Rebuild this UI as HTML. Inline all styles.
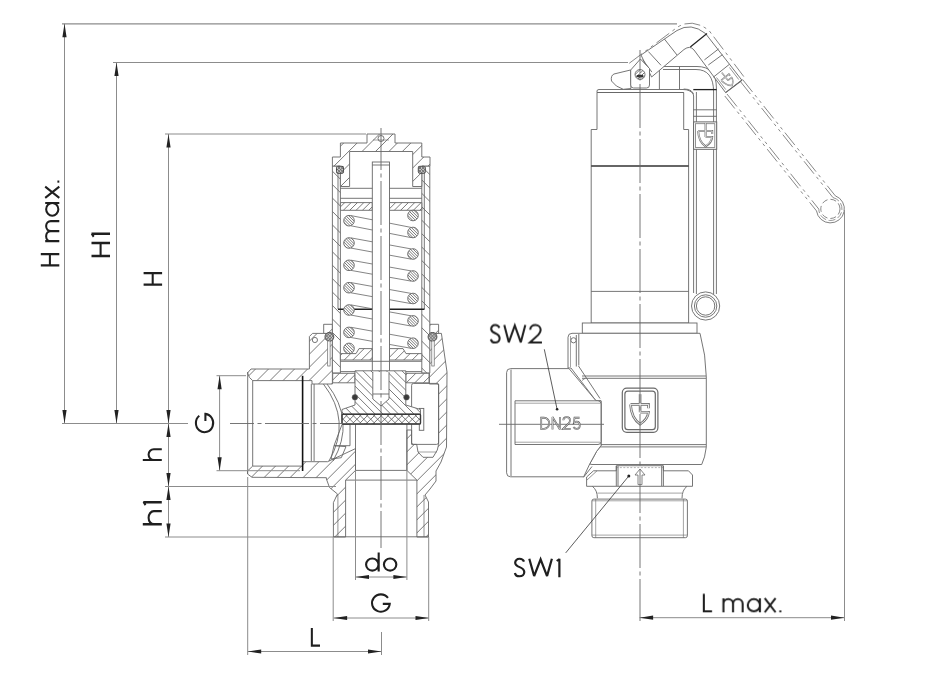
<!DOCTYPE html>
<html><head><meta charset="utf-8"><style>
html,body{margin:0;padding:0;background:#fff;}
svg{display:block;font-family:"Liberation Sans",sans-serif;}
</style></head><body>
<svg width="930" height="700" viewBox="0 0 930 700">

<polygon points="247.5,373 251,369 309.4,369 309.4,336.5 312.5,333.4 332.4,333.4 332.4,384 312,384 312,380.6 252.7,380.6 249.5,377.5" fill="#fff" stroke="none" stroke-width="0" stroke-linejoin="round" />
<clipPath id="c1"><polygon points="247.5,373 251,369 309.4,369 309.4,336.5 312.5,333.4 332.4,333.4 332.4,384 312,384 312,380.6 252.7,380.6 249.5,377.5"/></clipPath><path clip-path="url(#c1)" d="M186.47,386.00L241.07,331.40M199.48,386.00L254.08,331.40M212.50,386.00L267.10,331.40M225.51,386.00L280.11,331.40M238.52,386.00L293.12,331.40M251.53,386.00L306.13,331.40M264.54,386.00L319.14,331.40M277.55,386.00L332.15,331.40M290.56,386.00L345.16,331.40M303.57,386.00L358.17,331.40M316.58,386.00L371.18,331.40M329.59,386.00L384.19,331.40" stroke="#6a6a6a" stroke-width="0.9" fill="none"/>
<polygon points="247.5,373 251,369 309.4,369 309.4,336.5 312.5,333.4 332.4,333.4 332.4,384 312,384 312,380.6 252.7,380.6 249.5,377.5" fill="none" stroke="#666" stroke-width="0.9" stroke-linejoin="round" />
<polygon points="247.5,471 252.7,466.1 302.6,466.1 302.6,461.7 327.6,461.7 355.5,448.6 355.5,470.4 345.6,480.1 345.6,537 333.4,537 333.4,502.6 337.5,494 329.5,487.5 326.4,479 326.4,477.7 252,477.3 247.5,474" fill="#fff" stroke="none" stroke-width="0" stroke-linejoin="round" />
<clipPath id="c2"><polygon points="247.5,471 252.7,466.1 302.6,466.1 302.6,461.7 327.6,461.7 355.5,448.6 355.5,470.4 345.6,480.1 345.6,537 333.4,537 333.4,502.6 337.5,494 329.5,487.5 326.4,479 326.4,477.7 252,477.3 247.5,474"/></clipPath><path clip-path="url(#c2)" d="M150.57,539.00L242.97,446.60M163.58,539.00L255.98,446.60M176.59,539.00L268.99,446.60M189.60,539.00L282.00,446.60M202.61,539.00L295.01,446.60M215.62,539.00L308.02,446.60M228.64,539.00L321.04,446.60M241.65,539.00L334.05,446.60M254.66,539.00L347.06,446.60M267.67,539.00L360.07,446.60M280.68,539.00L373.08,446.60M293.69,539.00L386.09,446.60M306.70,539.00L399.10,446.60M319.71,539.00L412.11,446.60M332.72,539.00L425.12,446.60M345.73,539.00L438.13,446.60" stroke="#6a6a6a" stroke-width="0.9" fill="none"/>
<polygon points="247.5,471 252.7,466.1 302.6,466.1 302.6,461.7 327.6,461.7 355.5,448.6 355.5,470.4 345.6,480.1 345.6,537 333.4,537 333.4,502.6 337.5,494 329.5,487.5 326.4,479 326.4,477.7 252,477.3 247.5,474" fill="none" stroke="#666" stroke-width="0.9" stroke-linejoin="round" />
<polygon points="429.4,333.4 441.4,333.4 447,372 446.5,447 441,462 436,471 436,481 430,489 425,495 428.5,502 428.5,537 416.9,537 416.9,480.1 406.9,470.4 406.9,430 411.6,430 411.6,444.4 416.7,444.4 418,452 423,457.3 433,457.3 437.3,450 438.6,444.4 438.6,384 429.4,384" fill="#fff" stroke="none" stroke-width="0" stroke-linejoin="round" />
<clipPath id="c3"><polygon points="429.4,333.4 441.4,333.4 447,372 446.5,447 441,462 436,471 436,481 430,489 425,495 428.5,502 428.5,537 416.9,537 416.9,480.1 406.9,470.4 406.9,430 411.6,430 411.6,444.4 416.7,444.4 418,452 423,457.3 433,457.3 437.3,450 438.6,444.4 438.6,384 429.4,384"/></clipPath><path clip-path="url(#c3)" d="M189.60,539.00L397.20,331.40M202.61,539.00L410.21,331.40M215.62,539.00L423.22,331.40M228.64,539.00L436.24,331.40M241.65,539.00L449.25,331.40M254.66,539.00L462.26,331.40M267.67,539.00L475.27,331.40M280.68,539.00L488.28,331.40M293.69,539.00L501.29,331.40M306.70,539.00L514.30,331.40M319.71,539.00L527.31,331.40M332.72,539.00L540.32,331.40M345.73,539.00L553.33,331.40M358.74,539.00L566.34,331.40M371.75,539.00L579.35,331.40M384.76,539.00L592.36,331.40M397.78,539.00L605.38,331.40M410.79,539.00L618.39,331.40M423.80,539.00L631.40,331.40M436.81,539.00L644.41,331.40" stroke="#6a6a6a" stroke-width="0.9" fill="none"/>
<polygon points="429.4,333.4 441.4,333.4 447,372 446.5,447 441,462 436,471 436,481 430,489 425,495 428.5,502 428.5,537 416.9,537 416.9,480.1 406.9,470.4 406.9,430 411.6,430 411.6,444.4 416.7,444.4 418,452 423,457.3 433,457.3 437.3,450 438.6,444.4 438.6,384 429.4,384" fill="none" stroke="#666" stroke-width="0.9" stroke-linejoin="round" />
<circle cx="314.9" cy="340" r="2.6" fill="#fff" stroke="#666" stroke-width="0.9" />
<line x1="302.6" y1="375.8" x2="302.6" y2="471" stroke="#111" stroke-width="1.6" />
<line x1="311.3" y1="384" x2="311.3" y2="461" stroke="#666" stroke-width="0.9" />
<line x1="314.1" y1="384" x2="314.1" y2="461" stroke="#666" stroke-width="0.9" />
<line x1="252.7" y1="380.6" x2="252.7" y2="466.1" stroke="#666" stroke-width="0.9" />
<line x1="247.7" y1="372" x2="247.7" y2="474" stroke="#666" stroke-width="0.9" />
<path d="M323.4,384 Q352,421 329,461" fill="none" stroke="#666" stroke-width="0.9" stroke-linejoin="round" />
<path d="M327,384 Q356,421 333,461" fill="none" stroke="#666" stroke-width="0.9" stroke-linejoin="round" />
<polygon points="342,424.5 350,424.5 350,445.7 334,445.7" fill="none" stroke="#666" stroke-width="0.9" stroke-linejoin="round" />
<polygon points="334,445.7 346,446.6 341.3,457.7 331,459" fill="none" stroke="#666" stroke-width="0.9" stroke-linejoin="round" />
<rect x="411.6" y="383.4" width="27" height="61" rx="2" fill="none" stroke="#666" stroke-width="0.9" />
<rect x="419.3" y="408.4" width="4.5" height="21.9" rx="0" fill="#fff" stroke="#666" stroke-width="0.9" />
<line x1="418" y1="452" x2="437" y2="452" stroke="#666" stroke-width="0.6" />
<line x1="345.6" y1="480.1" x2="416.9" y2="480.1" stroke="#666" stroke-width="0.9" />
<line x1="333.4" y1="536.8" x2="428.5" y2="536.8" stroke="#666" stroke-width="0.9" />
<line x1="355.5" y1="470.4" x2="406.9" y2="470.4" stroke="#666" stroke-width="0.9" />
<line x1="355.5" y1="424" x2="355.5" y2="470.4" stroke="#666" stroke-width="0.9" />
<line x1="406.9" y1="424" x2="406.9" y2="470.4" stroke="#666" stroke-width="0.9" />
<line x1="337.9" y1="495" x2="337.9" y2="537" stroke="#666" stroke-width="0.7" />
<line x1="424" y1="495" x2="424" y2="537" stroke="#666" stroke-width="0.7" />
<polygon points="323.7,324.3 332.4,324.3 332.4,333.4 323.7,333.4" fill="#fff" stroke="none" stroke-width="0" stroke-linejoin="round" />
<clipPath id="c4"><polygon points="323.7,324.3 332.4,324.3 332.4,333.4 323.7,333.4"/></clipPath><path clip-path="url(#c4)" d="M299.05,335.40L312.15,322.30M312.48,335.40L325.58,322.30M325.92,335.40L339.02,322.30" stroke="#6a6a6a" stroke-width="0.9" fill="none"/>
<polygon points="323.7,324.3 332.4,324.3 332.4,333.4 323.7,333.4" fill="none" stroke="#666" stroke-width="0.9" stroke-linejoin="round" />
<polygon points="429.4,324.3 438.6,324.3 438.6,333.4 429.4,333.4" fill="#fff" stroke="none" stroke-width="0" stroke-linejoin="round" />
<clipPath id="c5"><polygon points="429.4,324.3 438.6,324.3 438.6,333.4 429.4,333.4"/></clipPath><path clip-path="url(#c5)" d="M406.53,335.40L419.63,322.30M419.96,335.40L433.06,322.30M433.40,335.40L446.50,322.30" stroke="#6a6a6a" stroke-width="0.9" fill="none"/>
<polygon points="429.4,324.3 438.6,324.3 438.6,333.4 429.4,333.4" fill="none" stroke="#666" stroke-width="0.9" stroke-linejoin="round" />
<polygon points="332.4,166 340.4,166 340.4,373 332.4,373" fill="#fff" stroke="none" stroke-width="0" stroke-linejoin="round" />
<clipPath id="c6"><polygon points="332.4,166 340.4,166 340.4,373 332.4,373"/></clipPath><path clip-path="url(#c6)" d="M110.26,164.00L321.26,375.00M123.69,164.00L334.69,375.00M137.13,164.00L348.13,375.00M150.56,164.00L361.56,375.00M164.00,164.00L375.00,375.00M177.44,164.00L388.44,375.00M190.87,164.00L401.87,375.00M204.31,164.00L415.31,375.00M217.74,164.00L428.74,375.00M231.18,164.00L442.18,375.00M244.61,164.00L455.61,375.00M258.05,164.00L469.05,375.00M271.48,164.00L482.48,375.00M284.92,164.00L495.92,375.00M298.35,164.00L509.35,375.00M311.79,164.00L522.79,375.00M325.22,164.00L536.22,375.00M338.66,164.00L549.66,375.00" stroke="#6a6a6a" stroke-width="0.9" fill="none"/>
<polygon points="332.4,166 340.4,166 340.4,373 332.4,373" fill="none" stroke="#666" stroke-width="0.9" stroke-linejoin="round" />
<polygon points="421.8,166 429.8,166 429.8,373 421.8,373" fill="#fff" stroke="none" stroke-width="0" stroke-linejoin="round" />
<clipPath id="c7"><polygon points="421.8,166 429.8,166 429.8,373 421.8,373"/></clipPath><path clip-path="url(#c7)" d="M204.31,164.00L415.31,375.00M217.74,164.00L428.74,375.00M231.18,164.00L442.18,375.00M244.61,164.00L455.61,375.00M258.05,164.00L469.05,375.00M271.48,164.00L482.48,375.00M284.92,164.00L495.92,375.00M298.35,164.00L509.35,375.00M311.79,164.00L522.79,375.00M325.22,164.00L536.22,375.00M338.66,164.00L549.66,375.00M352.09,164.00L563.09,375.00M365.53,164.00L576.53,375.00M378.96,164.00L589.96,375.00M392.40,164.00L603.40,375.00M405.83,164.00L616.83,375.00M419.27,164.00L630.27,375.00" stroke="#6a6a6a" stroke-width="0.9" fill="none"/>
<polygon points="421.8,166 429.8,166 429.8,373 421.8,373" fill="none" stroke="#666" stroke-width="0.9" stroke-linejoin="round" />
<line x1="338" y1="172" x2="338" y2="309" stroke="#666" stroke-width="0.9" />
<line x1="424.3" y1="172" x2="424.3" y2="309" stroke="#666" stroke-width="0.9" />
<polygon points="332.7,373.3 355.0,373.3 355.0,382.8 332.7,382.8" fill="#fff" stroke="none" stroke-width="0" stroke-linejoin="round" />
<clipPath id="c8"><polygon points="332.7,373.3 355.0,373.3 355.0,382.8 332.7,382.8"/></clipPath><path clip-path="url(#c8)" d="M310.99,384.80L324.49,371.30M319.48,384.80L332.98,371.30M327.96,384.80L341.46,371.30M336.45,384.80L349.95,371.30M344.93,384.80L358.43,371.30M353.42,384.80L366.92,371.30" stroke="#6a6a6a" stroke-width="0.9" fill="none"/>
<polygon points="332.7,373.3 355.0,373.3 355.0,382.8 332.7,382.8" fill="none" stroke="#666" stroke-width="0.9" stroke-linejoin="round" />
<polygon points="405.8,373.3 429.0,373.3 429.0,382.8 405.8,382.8" fill="#fff" stroke="none" stroke-width="0" stroke-linejoin="round" />
<clipPath id="c9"><polygon points="405.8,373.3 429.0,373.3 429.0,382.8 405.8,382.8"/></clipPath><path clip-path="url(#c9)" d="M387.36,384.80L400.86,371.30M395.85,384.80L409.35,371.30M404.33,384.80L417.83,371.30M412.82,384.80L426.32,371.30M421.30,384.80L434.80,371.30M429.79,384.80L443.29,371.30" stroke="#6a6a6a" stroke-width="0.9" fill="none"/>
<polygon points="405.8,373.3 429.0,373.3 429.0,382.8 405.8,382.8" fill="none" stroke="#666" stroke-width="0.9" stroke-linejoin="round" />
<polygon points="367,143 367,134 395,134 395,143 421.8,143 421.8,157 430,157 430,166 421.8,166 421.8,186.5 412.7,186.5 412.7,151.5 349.6,151.5 349.6,186.5 340.4,186.5 340.4,166 332.4,166 332.4,157 340.4,157 340.4,143" fill="#fff" stroke="none" stroke-width="0" stroke-linejoin="round" />
<clipPath id="c10"><polygon points="367,143 367,134 395,134 395,143 421.8,143 421.8,157 430,157 430,166 421.8,166 421.8,186.5 412.7,186.5 412.7,151.5 349.6,151.5 349.6,186.5 340.4,186.5 340.4,166 332.4,166 332.4,157 340.4,157 340.4,143"/></clipPath><path clip-path="url(#c10)" d="M271.29,188.50L327.79,132.00M284.73,188.50L341.23,132.00M298.16,188.50L354.66,132.00M311.60,188.50L368.10,132.00M325.03,188.50L381.53,132.00M338.47,188.50L394.97,132.00M351.90,188.50L408.40,132.00M365.34,188.50L421.84,132.00M378.77,188.50L435.27,132.00M392.21,188.50L448.71,132.00M405.64,188.50L462.14,132.00M419.08,188.50L475.58,132.00" stroke="#6a6a6a" stroke-width="0.9" fill="none"/>
<polygon points="367,143 367,134 395,134 395,143 421.8,143 421.8,157 430,157 430,166 421.8,166 421.8,186.5 412.7,186.5 412.7,151.5 349.6,151.5 349.6,186.5 340.4,186.5 340.4,166 332.4,166 332.4,157 340.4,157 340.4,143" fill="none" stroke="#666" stroke-width="0.9" stroke-linejoin="round" />
<circle cx="381" cy="138.5" r="3" fill="#fff" stroke="#666" stroke-width="0.9" />
<line x1="373" y1="140" x2="389" y2="140" stroke="#666" stroke-width="0.6" />
<rect x="336.5" y="166.3" width="7" height="7" rx="1.5" fill="#c8c8c8" stroke="#444" stroke-width="1.0" />
<clipPath id="c11"><rect x="336.5" y="166.3" width="7" height="7"/></clipPath><path clip-path="url(#c11)" d="M322.50,175.30L333.50,164.30M325.61,175.30L336.61,164.30M328.73,175.30L339.73,164.30M331.84,175.30L342.84,164.30M334.95,175.30L345.95,164.30M338.06,175.30L349.06,164.30M341.17,175.30L352.17,164.30M344.28,175.30L355.28,164.30" stroke="#6a6a6a" stroke-width="0.9" fill="none"/>
<clipPath id="c12"><rect x="336.5" y="166.3" width="7" height="7"/></clipPath><path clip-path="url(#c12)" d="M322.97,164.30L333.97,175.30M326.09,164.30L337.09,175.30M329.20,164.30L340.20,175.30M332.31,164.30L343.31,175.30M335.42,164.30L346.42,175.30M338.53,164.30L349.53,175.30M341.64,164.30L352.64,175.30M344.75,164.30L355.75,175.30" stroke="#6a6a6a" stroke-width="0.9" fill="none"/>
<rect x="418.3" y="166.3" width="7" height="7" rx="1.5" fill="#c8c8c8" stroke="#444" stroke-width="1.0" />
<clipPath id="c13"><rect x="418.3" y="166.3" width="7" height="7"/></clipPath><path clip-path="url(#c13)" d="M403.40,175.30L414.40,164.30M406.51,175.30L417.51,164.30M409.62,175.30L420.62,164.30M412.73,175.30L423.73,164.30M415.84,175.30L426.84,164.30M418.95,175.30L429.95,164.30M422.06,175.30L433.06,164.30M425.18,175.30L436.18,164.30" stroke="#6a6a6a" stroke-width="0.9" fill="none"/>
<clipPath id="c14"><rect x="418.3" y="166.3" width="7" height="7"/></clipPath><path clip-path="url(#c14)" d="M403.87,164.30L414.87,175.30M406.98,164.30L417.98,175.30M410.09,164.30L421.09,175.30M413.20,164.30L424.20,175.30M416.31,164.30L427.31,175.30M419.42,164.30L430.42,175.30M422.54,164.30L433.54,175.30M425.65,164.30L436.65,175.30" stroke="#6a6a6a" stroke-width="0.9" fill="none"/>
<circle cx="329.4" cy="336.9" r="4.4" fill="#c8c8c8" stroke="#444" stroke-width="1.0" />
<clipPath id="c15"><circle cx="329.4" cy="336.9" r="4.4"/></clipPath><path clip-path="url(#c15)" d="M310.07,343.30L322.87,330.50M313.18,343.30L325.98,330.50M316.29,343.30L329.09,330.50M319.40,343.30L332.20,330.50M322.51,343.30L335.31,330.50M325.62,343.30L338.42,330.50M328.73,343.30L341.53,330.50M331.85,343.30L344.65,330.50M334.96,343.30L347.76,330.50" stroke="#6a6a6a" stroke-width="0.9" fill="none"/>
<clipPath id="c16"><circle cx="329.4" cy="336.9" r="4.4"/></clipPath><path clip-path="url(#c16)" d="M308.72,330.50L321.52,343.30M311.83,330.50L324.63,343.30M314.94,330.50L327.74,343.30M318.05,330.50L330.85,343.30M321.17,330.50L333.97,343.30M324.28,330.50L337.08,343.30M327.39,330.50L340.19,343.30M330.50,330.50L343.30,343.30M333.61,330.50L346.41,343.30" stroke="#6a6a6a" stroke-width="0.9" fill="none"/>
<rect x="327.7" y="341" width="2.4" height="25" rx="0" fill="#fff" stroke="#666" stroke-width="0.7" />
<circle cx="432.5" cy="336.9" r="4.4" fill="#c8c8c8" stroke="#444" stroke-width="1.0" />
<clipPath id="c17"><circle cx="432.5" cy="336.9" r="4.4"/></clipPath><path clip-path="url(#c17)" d="M412.74,343.30L425.54,330.50M415.85,343.30L428.65,330.50M418.96,343.30L431.76,330.50M422.07,343.30L434.87,330.50M425.18,343.30L437.98,330.50M428.29,343.30L441.09,330.50M431.41,343.30L444.21,330.50M434.52,343.30L447.32,330.50M437.63,343.30L450.43,330.50" stroke="#6a6a6a" stroke-width="0.9" fill="none"/>
<clipPath id="c18"><circle cx="432.5" cy="336.9" r="4.4"/></clipPath><path clip-path="url(#c18)" d="M411.39,330.50L424.19,343.30M414.50,330.50L427.30,343.30M417.62,330.50L430.42,343.30M420.73,330.50L433.53,343.30M423.84,330.50L436.64,343.30M426.95,330.50L439.75,343.30M430.06,330.50L442.86,343.30M433.17,330.50L445.97,343.30M436.28,330.50L449.08,343.30" stroke="#6a6a6a" stroke-width="0.9" fill="none"/>
<rect x="431.8" y="341" width="2.4" height="25" rx="0" fill="#fff" stroke="#666" stroke-width="0.7" />
<line x1="340.4" y1="188.3" x2="421.8" y2="188.3" stroke="#666" stroke-width="0.9" />
<line x1="340.4" y1="198.3" x2="421.8" y2="198.3" stroke="#666" stroke-width="0.9" />
<polygon points="340.4,202.6 372.29999999999995,202.6 372.29999999999995,210.29999999999998 340.4,210.29999999999998" fill="#fff" stroke="none" stroke-width="0" stroke-linejoin="round" />
<clipPath id="c19"><polygon points="340.4,202.6 372.29999999999995,202.6 372.29999999999995,210.29999999999998 340.4,210.29999999999998"/></clipPath><path clip-path="url(#c19)" d="M322.27,212.30L333.97,200.60M328.64,212.30L340.34,200.60M335.00,212.30L346.70,200.60M341.36,212.30L353.06,200.60M347.73,212.30L359.43,200.60M354.09,212.30L365.79,200.60M360.46,212.30L372.16,200.60M366.82,212.30L378.52,200.60M373.18,212.30L384.88,200.60" stroke="#6a6a6a" stroke-width="0.9" fill="none"/>
<polygon points="340.4,202.6 372.29999999999995,202.6 372.29999999999995,210.29999999999998 340.4,210.29999999999998" fill="none" stroke="#666" stroke-width="0.9" stroke-linejoin="round" />
<polygon points="389.5,202.6 421.8,202.6 421.8,210.29999999999998 389.5,210.29999999999998" fill="#fff" stroke="none" stroke-width="0" stroke-linejoin="round" />
<clipPath id="c20"><polygon points="389.5,202.6 421.8,202.6 421.8,210.29999999999998 389.5,210.29999999999998"/></clipPath><path clip-path="url(#c20)" d="M373.18,212.30L384.88,200.60M379.55,212.30L391.25,200.60M385.91,212.30L397.61,200.60M392.28,212.30L403.98,200.60M398.64,212.30L410.34,200.60M405.00,212.30L416.70,200.60M411.37,212.30L423.07,200.60M417.73,212.30L429.43,200.60" stroke="#6a6a6a" stroke-width="0.9" fill="none"/>
<polygon points="389.5,202.6 421.8,202.6 421.8,210.29999999999998 389.5,210.29999999999998" fill="none" stroke="#666" stroke-width="0.9" stroke-linejoin="round" />
<line x1="338" y1="309.2" x2="424.5" y2="309.2" stroke="#222" stroke-width="1.4" />
<line x1="351" y1="215.6" x2="411" y2="227.4" stroke="#666" stroke-width="0.8" />
<line x1="351" y1="225.79999999999998" x2="411" y2="237.6" stroke="#666" stroke-width="0.8" />
<line x1="351" y1="237.9" x2="411" y2="248.9" stroke="#666" stroke-width="0.8" />
<line x1="351" y1="248.1" x2="411" y2="259.1" stroke="#666" stroke-width="0.8" />
<line x1="351" y1="260.2" x2="411" y2="270.9" stroke="#666" stroke-width="0.8" />
<line x1="351" y1="270.40000000000003" x2="411" y2="281.1" stroke="#666" stroke-width="0.8" />
<line x1="351" y1="282.59999999999997" x2="411" y2="293.4" stroke="#666" stroke-width="0.8" />
<line x1="351" y1="292.8" x2="411" y2="303.6" stroke="#666" stroke-width="0.8" />
<line x1="351" y1="304.9" x2="411" y2="315.79999999999995" stroke="#666" stroke-width="0.8" />
<line x1="351" y1="315.1" x2="411" y2="326.0" stroke="#666" stroke-width="0.8" />
<line x1="351" y1="327.29999999999995" x2="411" y2="338.09999999999997" stroke="#666" stroke-width="0.8" />
<line x1="351" y1="337.5" x2="411" y2="348.3" stroke="#666" stroke-width="0.8" />
<rect x="372.3" y="162" width="17.2" height="240" rx="0" fill="#fff" stroke="#666" stroke-width="0.9" />
<line x1="372.3" y1="165" x2="389.5" y2="165" stroke="#666" stroke-width="0.9" />
<circle cx="349" cy="220.7" r="5.3" fill="#fff" stroke="none" stroke-width="0" />
<clipPath id="c21"><circle cx="349" cy="220.7" r="5.3"/></clipPath><path clip-path="url(#c21)" d="M326.54,213.40L341.14,228.00M329.37,213.40L343.97,228.00M332.19,213.40L346.79,228.00M335.02,213.40L349.62,228.00M337.85,213.40L352.45,228.00M340.68,213.40L355.28,228.00M343.51,213.40L358.11,228.00M346.34,213.40L360.94,228.00M349.16,213.40L363.76,228.00M351.99,213.40L366.59,228.00M354.82,213.40L369.42,228.00" stroke="#6a6a6a" stroke-width="0.9" fill="none"/>
<circle cx="349" cy="220.7" r="5.3" fill="none" stroke="#666" stroke-width="0.9" />
<circle cx="349" cy="243" r="5.3" fill="#fff" stroke="none" stroke-width="0" />
<clipPath id="c22"><circle cx="349" cy="243" r="5.3"/></clipPath><path clip-path="url(#c22)" d="M326.21,235.70L340.81,250.30M329.04,235.70L343.64,250.30M331.87,235.70L346.47,250.30M334.69,235.70L349.29,250.30M337.52,235.70L352.12,250.30M340.35,235.70L354.95,250.30M343.18,235.70L357.78,250.30M346.01,235.70L360.61,250.30M348.84,235.70L363.44,250.30M351.67,235.70L366.27,250.30M354.49,235.70L369.09,250.30" stroke="#6a6a6a" stroke-width="0.9" fill="none"/>
<circle cx="349" cy="243" r="5.3" fill="none" stroke="#666" stroke-width="0.9" />
<circle cx="349" cy="265.3" r="5.3" fill="#fff" stroke="none" stroke-width="0" />
<clipPath id="c23"><circle cx="349" cy="265.3" r="5.3"/></clipPath><path clip-path="url(#c23)" d="M325.88,258.00L340.48,272.60M328.71,258.00L343.31,272.60M331.54,258.00L346.14,272.60M334.37,258.00L348.97,272.60M337.20,258.00L351.80,272.60M340.02,258.00L354.62,272.60M342.85,258.00L357.45,272.60M345.68,258.00L360.28,272.60M348.51,258.00L363.11,272.60M351.34,258.00L365.94,272.60M354.17,258.00L368.77,272.60" stroke="#6a6a6a" stroke-width="0.9" fill="none"/>
<circle cx="349" cy="265.3" r="5.3" fill="none" stroke="#666" stroke-width="0.9" />
<circle cx="349" cy="287.7" r="5.3" fill="#fff" stroke="none" stroke-width="0" />
<clipPath id="c24"><circle cx="349" cy="287.7" r="5.3"/></clipPath><path clip-path="url(#c24)" d="M325.65,280.40L340.25,295.00M328.48,280.40L343.08,295.00M331.31,280.40L345.91,295.00M334.14,280.40L348.74,295.00M336.97,280.40L351.57,295.00M339.80,280.40L354.40,295.00M342.63,280.40L357.23,295.00M345.45,280.40L360.05,295.00M348.28,280.40L362.88,295.00M351.11,280.40L365.71,295.00M353.94,280.40L368.54,295.00" stroke="#6a6a6a" stroke-width="0.9" fill="none"/>
<circle cx="349" cy="287.7" r="5.3" fill="none" stroke="#666" stroke-width="0.9" />
<circle cx="349" cy="310" r="5.3" fill="#fff" stroke="none" stroke-width="0" />
<clipPath id="c25"><circle cx="349" cy="310" r="5.3"/></clipPath><path clip-path="url(#c25)" d="M325.33,302.70L339.93,317.30M328.16,302.70L342.76,317.30M330.98,302.70L345.58,317.30M333.81,302.70L348.41,317.30M336.64,302.70L351.24,317.30M339.47,302.70L354.07,317.30M342.30,302.70L356.90,317.30M345.13,302.70L359.73,317.30M347.95,302.70L362.55,317.30M350.78,302.70L365.38,317.30M353.61,302.70L368.21,317.30" stroke="#6a6a6a" stroke-width="0.9" fill="none"/>
<circle cx="349" cy="310" r="5.3" fill="none" stroke="#666" stroke-width="0.9" />
<circle cx="349" cy="332.4" r="5.3" fill="#fff" stroke="none" stroke-width="0" />
<clipPath id="c26"><circle cx="349" cy="332.4" r="5.3"/></clipPath><path clip-path="url(#c26)" d="M325.10,325.10L339.70,339.70M327.93,325.10L342.53,339.70M330.76,325.10L345.36,339.70M333.59,325.10L348.19,339.70M336.41,325.10L351.01,339.70M339.24,325.10L353.84,339.70M342.07,325.10L356.67,339.70M344.90,325.10L359.50,339.70M347.73,325.10L362.33,339.70M350.56,325.10L365.16,339.70M353.38,325.10L367.98,339.70M356.21,325.10L370.81,339.70" stroke="#6a6a6a" stroke-width="0.9" fill="none"/>
<circle cx="349" cy="332.4" r="5.3" fill="none" stroke="#666" stroke-width="0.9" />
<circle cx="349" cy="348.4" r="5.3" fill="#fff" stroke="none" stroke-width="0" />
<clipPath id="c27"><circle cx="349" cy="348.4" r="5.3"/></clipPath><path clip-path="url(#c27)" d="M326.96,341.10L341.56,355.70M329.79,341.10L344.39,355.70M332.61,341.10L347.21,355.70M335.44,341.10L350.04,355.70M338.27,341.10L352.87,355.70M341.10,341.10L355.70,355.70M343.93,341.10L358.53,355.70M346.76,341.10L361.36,355.70M349.59,341.10L364.19,355.70M352.41,341.10L367.01,355.70M355.24,341.10L369.84,355.70" stroke="#6a6a6a" stroke-width="0.9" fill="none"/>
<circle cx="349" cy="348.4" r="5.3" fill="none" stroke="#666" stroke-width="0.9" />
<circle cx="413" cy="215.5" r="5.3" fill="#fff" stroke="none" stroke-width="0" />
<clipPath id="c28"><circle cx="413" cy="215.5" r="5.3"/></clipPath><path clip-path="url(#c28)" d="M389.22,208.20L403.82,222.80M392.05,208.20L406.65,222.80M394.88,208.20L409.48,222.80M397.70,208.20L412.30,222.80M400.53,208.20L415.13,222.80M403.36,208.20L417.96,222.80M406.19,208.20L420.79,222.80M409.02,208.20L423.62,222.80M411.85,208.20L426.45,222.80M414.68,208.20L429.28,222.80M417.50,208.20L432.10,222.80" stroke="#6a6a6a" stroke-width="0.9" fill="none"/>
<circle cx="413" cy="215.5" r="5.3" fill="none" stroke="#666" stroke-width="0.9" />
<circle cx="413" cy="232.5" r="5.3" fill="#fff" stroke="none" stroke-width="0" />
<clipPath id="c29"><circle cx="413" cy="232.5" r="5.3"/></clipPath><path clip-path="url(#c29)" d="M389.25,225.20L403.85,239.80M392.08,225.20L406.68,239.80M394.91,225.20L409.51,239.80M397.73,225.20L412.33,239.80M400.56,225.20L415.16,239.80M403.39,225.20L417.99,239.80M406.22,225.20L420.82,239.80M409.05,225.20L423.65,239.80M411.88,225.20L426.48,239.80M414.70,225.20L429.30,239.80M417.53,225.20L432.13,239.80" stroke="#6a6a6a" stroke-width="0.9" fill="none"/>
<circle cx="413" cy="232.5" r="5.3" fill="none" stroke="#666" stroke-width="0.9" />
<circle cx="413" cy="254" r="5.3" fill="#fff" stroke="none" stroke-width="0" />
<clipPath id="c30"><circle cx="413" cy="254" r="5.3"/></clipPath><path clip-path="url(#c30)" d="M390.95,246.70L405.55,261.30M393.78,246.70L408.38,261.30M396.61,246.70L411.21,261.30M399.44,246.70L414.04,261.30M402.26,246.70L416.86,261.30M405.09,246.70L419.69,261.30M407.92,246.70L422.52,261.30M410.75,246.70L425.35,261.30M413.58,246.70L428.18,261.30M416.41,246.70L431.01,261.30M419.23,246.70L433.83,261.30" stroke="#6a6a6a" stroke-width="0.9" fill="none"/>
<circle cx="413" cy="254" r="5.3" fill="none" stroke="#666" stroke-width="0.9" />
<circle cx="413" cy="276" r="5.3" fill="#fff" stroke="none" stroke-width="0" />
<clipPath id="c31"><circle cx="413" cy="276" r="5.3"/></clipPath><path clip-path="url(#c31)" d="M390.32,268.70L404.92,283.30M393.15,268.70L407.75,283.30M395.98,268.70L410.58,283.30M398.81,268.70L413.41,283.30M401.64,268.70L416.24,283.30M404.46,268.70L419.06,283.30M407.29,268.70L421.89,283.30M410.12,268.70L424.72,283.30M412.95,268.70L427.55,283.30M415.78,268.70L430.38,283.30M418.61,268.70L433.21,283.30" stroke="#6a6a6a" stroke-width="0.9" fill="none"/>
<circle cx="413" cy="276" r="5.3" fill="none" stroke="#666" stroke-width="0.9" />
<circle cx="413" cy="298.5" r="5.3" fill="#fff" stroke="none" stroke-width="0" />
<clipPath id="c32"><circle cx="413" cy="298.5" r="5.3"/></clipPath><path clip-path="url(#c32)" d="M390.19,291.20L404.79,305.80M393.02,291.20L407.62,305.80M395.85,291.20L410.45,305.80M398.68,291.20L413.28,305.80M401.51,291.20L416.11,305.80M404.34,291.20L418.94,305.80M407.17,291.20L421.77,305.80M409.99,291.20L424.59,305.80M412.82,291.20L427.42,305.80M415.65,291.20L430.25,305.80M418.48,291.20L433.08,305.80" stroke="#6a6a6a" stroke-width="0.9" fill="none"/>
<circle cx="413" cy="298.5" r="5.3" fill="none" stroke="#666" stroke-width="0.9" />
<circle cx="413" cy="320.9" r="5.3" fill="#fff" stroke="none" stroke-width="0" />
<clipPath id="c33"><circle cx="413" cy="320.9" r="5.3"/></clipPath><path clip-path="url(#c33)" d="M389.97,313.60L404.57,328.20M392.80,313.60L407.40,328.20M395.62,313.60L410.22,328.20M398.45,313.60L413.05,328.20M401.28,313.60L415.88,328.20M404.11,313.60L418.71,328.20M406.94,313.60L421.54,328.20M409.77,313.60L424.37,328.20M412.59,313.60L427.19,328.20M415.42,313.60L430.02,328.20M418.25,313.60L432.85,328.20" stroke="#6a6a6a" stroke-width="0.9" fill="none"/>
<circle cx="413" cy="320.9" r="5.3" fill="none" stroke="#666" stroke-width="0.9" />
<circle cx="413" cy="343.2" r="5.3" fill="#fff" stroke="none" stroke-width="0" />
<clipPath id="c34"><circle cx="413" cy="343.2" r="5.3"/></clipPath><path clip-path="url(#c34)" d="M389.64,335.90L404.24,350.50M392.47,335.90L407.07,350.50M395.30,335.90L409.90,350.50M398.13,335.90L412.73,350.50M400.95,335.90L415.55,350.50M403.78,335.90L418.38,350.50M406.61,335.90L421.21,350.50M409.44,335.90L424.04,350.50M412.27,335.90L426.87,350.50M415.10,335.90L429.70,350.50M417.92,335.90L432.52,350.50" stroke="#6a6a6a" stroke-width="0.9" fill="none"/>
<circle cx="413" cy="343.2" r="5.3" fill="none" stroke="#666" stroke-width="0.9" />
<polygon points="340.4,353.6 356,353.6 359,348.6 372.3,348.6 372.3,360 340.4,360" fill="#fff" stroke="none" stroke-width="0" stroke-linejoin="round" />
<clipPath id="c35"><polygon points="340.4,353.6 356,353.6 359,348.6 372.3,348.6 372.3,360 340.4,360"/></clipPath><path clip-path="url(#c35)" d="M316.82,362.00L332.22,346.60M325.31,362.00L340.71,346.60M333.79,362.00L349.19,346.60M342.28,362.00L357.68,346.60M350.76,362.00L366.16,346.60M359.25,362.00L374.65,346.60M367.73,362.00L383.13,346.60" stroke="#6a6a6a" stroke-width="0.9" fill="none"/>
<polygon points="340.4,353.6 356,353.6 359,348.6 372.3,348.6 372.3,360 340.4,360" fill="none" stroke="#666" stroke-width="0.9" stroke-linejoin="round" />
<polygon points="389.5,348.6 403,348.6 406,353.6 421.8,353.6 421.8,360 389.5,360" fill="#fff" stroke="none" stroke-width="0" stroke-linejoin="round" />
<clipPath id="c36"><polygon points="389.5,348.6 403,348.6 406,353.6 421.8,353.6 421.8,360 389.5,360"/></clipPath><path clip-path="url(#c36)" d="M367.73,362.00L383.13,346.60M376.22,362.00L391.62,346.60M384.70,362.00L400.10,346.60M393.19,362.00L408.59,346.60M401.68,362.00L417.08,346.60M410.16,362.00L425.56,346.60M418.65,362.00L434.05,346.60" stroke="#6a6a6a" stroke-width="0.9" fill="none"/>
<polygon points="389.5,348.6 403,348.6 406,353.6 421.8,353.6 421.8,360 389.5,360" fill="none" stroke="#666" stroke-width="0.9" stroke-linejoin="round" />
<line x1="340.4" y1="361.3" x2="421.8" y2="361.3" stroke="#666" stroke-width="0.9" />
<line x1="340.4" y1="371.6" x2="421.8" y2="371.6" stroke="#666" stroke-width="0.9" />
<polygon points="355,370.8 405.8,370.8 405.8,405 420.5,409.5 420.5,414.3 342,414.3 342,409.5 355,405" fill="#fff" stroke="none" stroke-width="0" stroke-linejoin="round" />
<clipPath id="c37"><polygon points="355,370.8 405.8,370.8 405.8,405 420.5,409.5 420.5,414.3 342,414.3 342,409.5 355,405"/></clipPath><path clip-path="url(#c37)" d="M291.02,368.80L338.52,416.30M298.80,368.80L346.30,416.30M306.57,368.80L354.07,416.30M314.35,368.80L361.85,416.30M322.13,368.80L369.63,416.30M329.91,368.80L377.41,416.30M337.69,368.80L385.19,416.30M345.47,368.80L392.97,416.30M353.24,368.80L400.74,416.30M361.02,368.80L408.52,416.30M368.80,368.80L416.30,416.30M376.58,368.80L424.08,416.30M384.36,368.80L431.86,416.30M392.13,368.80L439.63,416.30M399.91,368.80L447.41,416.30M407.69,368.80L455.19,416.30M415.47,368.80L462.97,416.30" stroke="#6a6a6a" stroke-width="0.9" fill="none"/>
<polygon points="355,370.8 405.8,370.8 405.8,405 420.5,409.5 420.5,414.3 342,414.3 342,409.5 355,405" fill="none" stroke="#666" stroke-width="0.9" stroke-linejoin="round" />
<path d="M372.8,372 V399 L381,406 L389,399 V372" fill="#fff" stroke="#666" stroke-width="0.9" stroke-linejoin="round" />
<line x1="372.8" y1="394" x2="389" y2="394" stroke="#666" stroke-width="0.9" />
<polygon points="342,414.3 420.5,414.3 420.5,424.0 342,424.0" fill="#fff" stroke="none" stroke-width="0" stroke-linejoin="round" />
<clipPath id="c38"><polygon points="342,414.3 420.5,414.3 420.5,424.0 342,424.0"/></clipPath><path clip-path="url(#c38)" d="M322.40,426.00L336.10,412.30M329.33,426.00L343.03,412.30M336.26,426.00L349.96,412.30M343.19,426.00L356.89,412.30M350.12,426.00L363.82,412.30M357.05,426.00L370.75,412.30M363.98,426.00L377.68,412.30M370.91,426.00L384.61,412.30M377.84,426.00L391.54,412.30M384.77,426.00L398.47,412.30M391.70,426.00L405.40,412.30M398.63,426.00L412.33,412.30M405.56,426.00L419.26,412.30M412.49,426.00L426.19,412.30M419.42,426.00L433.12,412.30" stroke="#6a6a6a" stroke-width="0.9" fill="none"/>
<clipPath id="c39"><polygon points="342,414.3 420.5,414.3 420.5,424.0 342,424.0"/></clipPath><path clip-path="url(#c39)" d="M322.21,412.30L335.91,426.00M329.14,412.30L342.84,426.00M336.07,412.30L349.77,426.00M343.00,412.30L356.70,426.00M349.93,412.30L363.63,426.00M356.86,412.30L370.56,426.00M363.79,412.30L377.49,426.00M370.72,412.30L384.42,426.00M377.65,412.30L391.35,426.00M384.58,412.30L398.28,426.00M391.51,412.30L405.21,426.00M398.44,412.30L412.14,426.00M405.37,412.30L419.07,426.00M412.30,412.30L426.00,426.00M419.23,412.30L432.93,426.00" stroke="#6a6a6a" stroke-width="0.9" fill="none"/>
<polygon points="342,414.3 420.5,414.3 420.5,424.0 342,424.0" fill="none" stroke="#666" stroke-width="0.9" stroke-linejoin="round" />
<rect x="342" y="414.3" width="78.5" height="9.7" rx="1" fill="none" stroke="#3a3a3a" stroke-width="1.4" />
<circle cx="354.9" cy="397.3" r="2.8" fill="#3a3a3a" stroke="#666" stroke-width="0.6" />
<circle cx="406.5" cy="397.3" r="2.8" fill="#3a3a3a" stroke="#666" stroke-width="0.6" />
<path d="M597,92.5 V129.5 H591.2 V323 H688.6 V129.5 H683.7 V92.5 Z" fill="#fff" stroke="#666" stroke-width="0.9" stroke-linejoin="round" />
<line x1="591.2" y1="166" x2="688.6" y2="166" stroke="#333" stroke-width="1.4" />
<line x1="591.2" y1="291.4" x2="688.6" y2="291.4" stroke="#666" stroke-width="0.9" />
<path d="M597,92.5 V91 Q597,89.5 599,89.5 H683 Q690,89.5 693.3,94" fill="none" stroke="#666" stroke-width="0.9" stroke-linejoin="round" />
<line x1="597" y1="92.5" x2="683.7" y2="92.5" stroke="#666" stroke-width="0.9" />
<rect x="582.3" y="323" width="114.7" height="10.3" rx="0" fill="#fff" stroke="#666" stroke-width="0.9" />
<path d="M568,337.3 Q568,333.3 572,333.3 L700,333.3 Q706,355 706.3,377 L706.3,447 Q705,458 701.7,464.5 L592,464.5 L589.7,464 L596.6,451.4 L601,445.7 L601,400.8 L596,400.8 L571,368 L568,368 Z" fill="#fff" stroke="#666" stroke-width="0.9" stroke-linejoin="round" />
<line x1="576.3" y1="335" x2="576.3" y2="366.5" stroke="#666" stroke-width="0.9" />
<line x1="578.8" y1="334" x2="578.8" y2="365.5" stroke="#666" stroke-width="0.9" />
<line x1="570.5" y1="336" x2="570.5" y2="367" stroke="#666" stroke-width="0.6" />
<line x1="578.5" y1="366" x2="600" y2="398.5" stroke="#666" stroke-width="0.9" />
<line x1="582" y1="380.5" x2="585.5" y2="378" stroke="#666" stroke-width="0.7" />
<circle cx="573.5" cy="340.3" r="2.6" fill="#fff" stroke="#666" stroke-width="0.9" />
<line x1="582" y1="376" x2="706" y2="376" stroke="#666" stroke-width="0.9" />
<line x1="582" y1="378.3" x2="706" y2="378.3" stroke="#666" stroke-width="0.9" />
<line x1="600" y1="444.6" x2="706" y2="444.6" stroke="#666" stroke-width="0.9" />
<line x1="600" y1="446.9" x2="706" y2="446.9" stroke="#666" stroke-width="0.9" />
<path d="M510.6,368.6 L569,368.6 L596,400.8 L601,400.8 L601,445.7 L596.6,451.4 L589.7,464 L583.7,476.8 L510.6,476.8 Q506.6,476.8 506.6,472.8 L506.6,372.6 Q506.6,368.6 510.6,368.6 Z" fill="#fff" stroke="#666" stroke-width="0.9" stroke-linejoin="round" />
<line x1="511" y1="369.5" x2="511" y2="476" stroke="#666" stroke-width="0.9" />
<path d="M515,400.8 H598 Q601,400.8 601,404 V441.5 Q601,444.5 598,444.5 H515 Z" fill="#fff" stroke="#666" stroke-width="0.9" stroke-linejoin="round" />
<line x1="515" y1="403.2" x2="600" y2="403.2" stroke="#666" stroke-width="0.6" />
<line x1="515" y1="442.2" x2="600" y2="442.2" stroke="#666" stroke-width="0.6" />
<g transform="translate(640.1,410.2) rotate(0) scale(1)"><rect x="-17.8" y="-22.1" width="35.6" height="44.2" rx="4.5" fill="#fff" stroke="#6a6a6a" stroke-width="1.2"/><rect x="-15.2" y="-19.1" width="30.4" height="38.6" rx="3" fill="none" stroke="#6a6a6a" stroke-width="1.2"/><path d="M-9.6,-5.8 L8.4,-5.8 L8.4,-1.9 M0,2 L8.4,2 Q7.8,9 0,14 Q-8.8,8 -9.6,-5.8 M0,-16 L0,2" fill="none" stroke="#707070" stroke-width="2.6" stroke-linejoin="miter"/><path d="M-9.6,-5.8 L8.4,-5.8 L8.4,-1.9 M0,2 L8.4,2 Q7.8,9 0,14 Q-8.8,8 -9.6,-5.8 M0,-16 L0,2" fill="none" stroke="#fff" stroke-width="0.9" stroke-linejoin="miter"/></g>
<path d="M586.6,477 L593.5,470.8 H616.3 V465.7 H663.4 V470.8 H688.5 L692.5,475 V486.3 H586.6 Z" fill="#fff" stroke="#666" stroke-width="0.9" stroke-linejoin="round" />
<line x1="583.5" y1="477.3" x2="592" y2="466.5" stroke="#666" stroke-width="0.9" />
<line x1="597" y1="470.8" x2="587" y2="480" stroke="#666" stroke-width="0.7" />
<line x1="616.3" y1="467.6" x2="663.4" y2="467.6" stroke="#666" stroke-width="0.5" stroke-dasharray="2,1.5"/>
<line x1="616.3" y1="466" x2="616.3" y2="486" stroke="#666" stroke-width="0.9" />
<line x1="618" y1="466" x2="618" y2="486" stroke="#666" stroke-width="0.9" />
<line x1="661.7" y1="466" x2="661.7" y2="486" stroke="#666" stroke-width="0.9" />
<line x1="663.4" y1="466" x2="663.4" y2="486" stroke="#666" stroke-width="0.9" />
<path d="M592.3,486.3 Q597.4,490 597.4,498.3 M687,486.3 Q682,490 682,498.3" fill="none" stroke="#666" stroke-width="0.9" stroke-linejoin="round" />
<line x1="597.4" y1="493.1" x2="682" y2="493.1" stroke="#666" stroke-width="0.6" />
<rect x="591.9" y="499.1" width="95.5" height="38.6" rx="2" fill="#fff" stroke="#666" stroke-width="0.9" />
<line x1="595.7" y1="499.1" x2="595.7" y2="537.7" stroke="#666" stroke-width="0.6" />
<line x1="683.4" y1="499.1" x2="683.4" y2="537.7" stroke="#666" stroke-width="0.6" />
<line x1="591.9" y1="500.8" x2="687.4" y2="500.8" stroke="#666" stroke-width="0.6" />
<line x1="591.9" y1="535.1" x2="687.4" y2="535.1" stroke="#666" stroke-width="0.6" />
<path d="M640,469 L645,475 L642,475 L642,484.6 L638,484.6 L638,475 L635,475 Z" fill="#fff" stroke="#666" stroke-width="0.8" stroke-linejoin="round" />
<line x1="659.4" y1="66.5" x2="659.4" y2="89" stroke="#666" stroke-width="0.9" />
<line x1="679.5" y1="66.5" x2="679.5" y2="89" stroke="#666" stroke-width="0.9" />
<path d="M661,66.5 H697 Q716.4,66.5 716.4,88 V294" fill="none" stroke="#666" stroke-width="0.9" stroke-linejoin="round" />
<path d="M663,69.5 H696 Q713.6,69.5 713.6,92" fill="none" stroke="#666" stroke-width="0.9" stroke-linejoin="round" />
<path d="M683.7,89 Q693.6,89 693.6,96 V293" fill="none" stroke="#666" stroke-width="0.9" stroke-linejoin="round" />
<line x1="696.4" y1="92" x2="696.4" y2="294" stroke="#666" stroke-width="0.9" />
<line x1="713.6" y1="92" x2="713.6" y2="294" stroke="#666" stroke-width="0.9" />
<line x1="693.3" y1="89.6" x2="716.6" y2="89.6" stroke="#222" stroke-width="1.3" />
<line x1="693.3" y1="109.8" x2="716.6" y2="109.8" stroke="#666" stroke-width="0.9" />
<line x1="693.3" y1="116.3" x2="716.6" y2="116.3" stroke="#666" stroke-width="0.9" />
<rect x="693.6" y="121.9" width="23.1" height="27.4" rx="0" fill="#fff" stroke="#666" stroke-width="1.0" />
<rect x="695.5" y="123.7" width="19.3" height="23.8" rx="0" fill="none" stroke="#777" stroke-width="0.8" />
<g transform="translate(705.6,135.5) rotate(0) scale(0.78)"><path d="M-9.6,-5.8 L8.4,-5.8 L8.4,-1.9 M0,2 L8.4,2 Q7.8,9 0,14 Q-8.8,8 -9.6,-5.8 M0,-16 L0,2" fill="none" stroke="#707070" stroke-width="2.6" stroke-linejoin="miter"/><path d="M-9.6,-5.8 L8.4,-5.8 L8.4,-1.9 M0,2 L8.4,2 Q7.8,9 0,14 Q-8.8,8 -9.6,-5.8 M0,-16 L0,2" fill="none" stroke="#fff" stroke-width="0.9" stroke-linejoin="miter"/></g>
<circle cx="705.6" cy="306" r="14.1" fill="#fff" stroke="#666" stroke-width="0.9" />
<circle cx="705.6" cy="306" r="11.2" fill="none" stroke="#666" stroke-width="0.9" />
<circle cx="705.6" cy="306" r="9.2" fill="none" stroke="#666" stroke-width="0.9" />
<path d="M742.5,79.4 L835.3,195.8" fill="none" stroke="#6a6a6a" stroke-width="0.8" stroke-linejoin="round" stroke-dasharray="16,4,3,4,3,4"/>
<path d="M740.4,81.5 L833.0,197.6" fill="none" stroke="#6a6a6a" stroke-width="0.8" stroke-linejoin="round" stroke-dasharray="16,4,3,4,3,4"/>
<path d="M727,94 L818.8,209.1" fill="none" stroke="#6a6a6a" stroke-width="0.8" stroke-linejoin="round" stroke-dasharray="16,4,3,4,3,4"/>
<path d="M724.8,96 L816.5,210.9" fill="none" stroke="#6a6a6a" stroke-width="0.8" stroke-linejoin="round" stroke-dasharray="16,4,3,4,3,4"/>
<path d="M835.3,195.8 A14,14 0 1 1 816.5,210.9" fill="none" stroke="#6a6a6a" stroke-width="0.85" stroke-linejoin="round" />
<path d="M833.0,197.6 A11.6,11.6 0 1 1 818.8,209.1" fill="none" stroke="#6a6a6a" stroke-width="0.7" stroke-linejoin="round" stroke-dasharray="7,2.5"/>
<circle cx="830.4" cy="208.9" r="9.6" fill="none" stroke="#6a6a6a" stroke-width="0.8" stroke-dasharray="6,3"/>
<path d="M641,55 L677,30.5 Q691,22 705.5,33.5 L741.9,80.2 L725.6,92.6 L694,50 Q690,45 684,49.5 L651.6,77 Z" fill="#fff" stroke="#666" stroke-width="0.9" stroke-linejoin="round" />
<path d="M629.2,63.3 L677,27.5 Q692,17.5 709,30.5 L744.5,77.5" fill="none" stroke="#6a6a6a" stroke-width="0.8" stroke-linejoin="round" stroke-dasharray="16,4,3,4,3,4"/>
<line x1="690.3" y1="47" x2="707" y2="33.5" stroke="#222" stroke-width="1.2" />
<line x1="704.4" y1="59.9" x2="718.6" y2="48.9" stroke="#666" stroke-width="0.9" />
<line x1="708.3" y1="65" x2="722.4" y2="54.7" stroke="#666" stroke-width="0.9" />
<line x1="642.7" y1="59.6" x2="651.9" y2="72.1" stroke="#666" stroke-width="0.9" />
<line x1="648.4" y1="51.6" x2="661" y2="65.3" stroke="#666" stroke-width="0.9" />
<line x1="664.4" y1="39" x2="677" y2="55" stroke="#666" stroke-width="0.9" />
<line x1="729.3" y1="64.4" x2="713.3" y2="77.2" stroke="#666" stroke-width="0.9" />
<line x1="741.9" y1="80.2" x2="725.6" y2="92.6" stroke="#666" stroke-width="1.1" />
<line x1="729.5" y1="67.5" x2="738.8" y2="79.6" stroke="#666" stroke-width="0.7" />
<line x1="716.5" y1="77.5" x2="725.8" y2="89.6" stroke="#666" stroke-width="0.7" />
<g transform="translate(727.3,79.5) rotate(-38.6) scale(0.55)"><path d="M-9.6,-5.8 L8.4,-5.8 L8.4,-1.9 M0,2 L8.4,2 Q7.8,9 0,14 Q-8.8,8 -9.6,-5.8 M0,-16 L0,2" fill="none" stroke="#707070" stroke-width="2.6" stroke-linejoin="miter"/><path d="M-9.6,-5.8 L8.4,-5.8 L8.4,-1.9 M0,2 L8.4,2 Q7.8,9 0,14 Q-8.8,8 -9.6,-5.8 M0,-16 L0,2" fill="none" stroke="#fff" stroke-width="0.9" stroke-linejoin="miter"/></g>
<path d="M630.5,70 L614,74 Q610.5,75.5 611.5,81 L616.4,86 L623.3,89.3 L631,88.5 Z" fill="#fff" stroke="#666" stroke-width="0.9" stroke-linejoin="round" />
<path d="M630.7,70 L640.4,59 L649.5,68.5 L649.5,85 Q649.5,88 646.5,88 L633.5,88 Q630.7,88 630.7,85 Z" fill="#fff" stroke="#666" stroke-width="0.9" stroke-linejoin="round" />
<circle cx="640" cy="74.5" r="5" fill="#fff" stroke="none" stroke-width="0" />
<clipPath id="c40"><circle cx="640" cy="74.5" r="5"/></clipPath><path clip-path="url(#c40)" d="M617.12,81.50L631.12,67.50M620.80,81.50L634.80,67.50M624.48,81.50L638.48,67.50M628.15,81.50L642.15,67.50M631.83,81.50L645.83,67.50M635.51,81.50L649.51,67.50M639.18,81.50L653.18,67.50M642.86,81.50L656.86,67.50M646.54,81.50L660.54,67.50" stroke="#6a6a6a" stroke-width="0.9" fill="none"/>
<circle cx="640" cy="74.5" r="5" fill="none" stroke="#666" stroke-width="0.9" />
<ellipse cx="640" cy="76" rx="3.6" ry="1.6" fill="#333"/>
<line x1="62" y1="23.8" x2="677" y2="23.8" stroke="#8c8c8c" stroke-width="1.3" />
<line x1="64.5" y1="23.8" x2="64.5" y2="423.5" stroke="#8c8c8c" stroke-width="1" />
<polygon points="64.5,23.8 62.4,37.3 66.6,37.3" fill="#222"/>
<polygon points="64.5,423.5 62.4,410.0 66.6,410.0" fill="#222"/>
<line x1="113" y1="62.5" x2="628" y2="62.5" stroke="#8c8c8c" stroke-width="1.1" />
<line x1="116.5" y1="62.5" x2="116.5" y2="423.5" stroke="#8c8c8c" stroke-width="1" />
<polygon points="116.5,62.5 114.4,76.0 118.6,76.0" fill="#222"/>
<polygon points="116.5,423.5 114.4,410.0 118.6,410.0" fill="#222"/>
<line x1="165" y1="134" x2="366" y2="134" stroke="#8c8c8c" stroke-width="1.1" />
<line x1="168.5" y1="134" x2="168.5" y2="537" stroke="#8c8c8c" stroke-width="1" />
<polygon points="168.5,134.0 166.4,147.5 170.6,147.5" fill="#222"/>
<polygon points="168.5,423.5 166.4,410.0 170.6,410.0" fill="#222"/>
<polygon points="168.5,423.5 166.4,437.0 170.6,437.0" fill="#222"/>
<polygon points="168.5,486.5 166.4,473.0 170.6,473.0" fill="#222"/>
<polygon points="168.5,486.5 166.4,500.0 170.6,500.0" fill="#222"/>
<polygon points="168.5,537.0 166.4,523.5 170.6,523.5" fill="#222"/>
<line x1="62" y1="423.5" x2="188" y2="423.5" stroke="#8c8c8c" stroke-width="1" />
<line x1="219.6" y1="375.7" x2="219.6" y2="470.7" stroke="#8c8c8c" stroke-width="1" />
<polygon points="219.6,375.7 217.5,389.2 221.7,389.2" fill="#222"/>
<polygon points="219.6,470.7 217.5,457.2 221.7,457.2" fill="#222"/>
<line x1="216.5" y1="375.7" x2="246" y2="375.7" stroke="#8c8c8c" stroke-width="1" />
<line x1="216.5" y1="470.7" x2="300" y2="470.7" stroke="#8c8c8c" stroke-width="1" />
<line x1="165" y1="486.5" x2="336" y2="486.5" stroke="#8c8c8c" stroke-width="1" />
<line x1="165" y1="537" x2="333" y2="537" stroke="#8c8c8c" stroke-width="1" />
<line x1="333.6" y1="618" x2="429" y2="618" stroke="#8c8c8c" stroke-width="1" />
<polygon points="333.6,618.0 347.1,615.9 347.1,620.1" fill="#222"/>
<polygon points="429.0,618.0 415.5,615.9 415.5,620.1" fill="#222"/>
<line x1="333.2" y1="537" x2="333.2" y2="621" stroke="#8c8c8c" stroke-width="1" />
<line x1="428.7" y1="537" x2="428.7" y2="621" stroke="#8c8c8c" stroke-width="1" />
<line x1="355.5" y1="577" x2="406.9" y2="577" stroke="#8c8c8c" stroke-width="1" />
<polygon points="355.5,577.0 369.0,574.9 369.0,579.1" fill="#222"/>
<polygon points="406.9,577.0 393.4,574.9 393.4,579.1" fill="#222"/>
<line x1="355.5" y1="470.4" x2="355.5" y2="580" stroke="#8c8c8c" stroke-width="1" />
<line x1="406.9" y1="470.4" x2="406.9" y2="580" stroke="#8c8c8c" stroke-width="1" />
<line x1="247.7" y1="651.5" x2="381.5" y2="651.5" stroke="#8c8c8c" stroke-width="1" />
<polygon points="247.7,651.5 261.2,649.4 261.2,653.6" fill="#222"/>
<polygon points="381.5,651.5 368.0,649.4 368.0,653.6" fill="#222"/>
<line x1="247.7" y1="477" x2="247.7" y2="655" stroke="#8c8c8c" stroke-width="1" />
<line x1="381.5" y1="632" x2="381.5" y2="655" stroke="#8c8c8c" stroke-width="1" />
<line x1="639.6" y1="617.7" x2="844.5" y2="617.7" stroke="#8c8c8c" stroke-width="1" />
<polygon points="639.6,617.7 653.1,615.6 653.1,619.8" fill="#222"/>
<polygon points="844.5,617.7 831.0,615.6 831.0,619.8" fill="#222"/>
<line x1="844.5" y1="210" x2="844.5" y2="621" stroke="#8c8c8c" stroke-width="1" />
<line x1="381" y1="128" x2="381" y2="548" stroke="#666" stroke-width="0.9" stroke-dasharray="44,3.5,4,3.5" stroke-dashoffset="2"/>
<line x1="230" y1="423.5" x2="392" y2="423.5" stroke="#666" stroke-width="0.9" stroke-dasharray="44,3.5,4,3.5" stroke-dashoffset="20"/>
<line x1="640" y1="50" x2="640" y2="621" stroke="#666" stroke-width="0.9" stroke-dasharray="44,3.5,4,3.5" stroke-dashoffset="21"/>
<line x1="499" y1="424.3" x2="604" y2="424.3" stroke="#666" stroke-width="0.9" />
<line x1="544.3" y1="349.3" x2="557.1" y2="409.3" stroke="#333" stroke-width="0.8" />
<circle cx="557.1" cy="409.3" r="1.3" fill="#222" stroke="#222" stroke-width="0"/>
<line x1="565.7" y1="552.9" x2="628.8" y2="476" stroke="#333" stroke-width="0.8" />
<circle cx="628.8" cy="476" r="1.5" fill="#222" stroke="#222" stroke-width="0"/>
<g opacity="0.995"><g transform="translate(59.3,266.3) rotate(-90) scale(1.0528,1.0)" fill="none" stroke="#1e1e1e" stroke-width="2.05" stroke-linejoin="miter" stroke-miterlimit="3"><path transform="translate(0.00,0)" d="M0.95,-18.5V0M11.55,-18.5V0M0.95,-9.4H11.55"/><path transform="translate(22.90,0)" d="M0.95,-14.1V0M0.95,-8.5A4.775,4.675 0 0 1 10.5,-8.5V0M10.5,-8.5A4.775,4.675 0 0 1 20.05,-8.5V0"/><path transform="translate(47.10,0)" d="M0.95,-7.05A6.05,6.1 0 1 0 13.05,-7.05A6.05,6.1 0 1 0 0.95,-7.05M13.05,-14.1V0"/><path transform="translate(64.30,0)" d="M0.6,-14.1L11.4,0M11.4,-14.1L0.6,0"/><path transform="translate(79.50,0)" d="M0.95,-1.9V0"/></g>
<g transform="translate(110,257.1) rotate(-90) scale(1.2261,1.0)" fill="none" stroke="#1e1e1e" stroke-width="2.05" stroke-linejoin="miter" stroke-miterlimit="3"><path transform="translate(0.00,0)" d="M0.95,-18.5V0M11.55,-18.5V0M0.95,-9.4H11.55"/><path transform="translate(15.70,0)" d="M3.25,-18.5V0M3.5,-18.3L0.8,-16.3"/></g>
<g transform="translate(162.1,285.7) rotate(-90) scale(1.0960,1.0)" fill="none" stroke="#1e1e1e" stroke-width="2.05" stroke-linejoin="miter" stroke-miterlimit="3"><path transform="translate(0.00,0)" d="M0.95,-18.5V0M11.55,-18.5V0M0.95,-9.4H11.55"/></g>
<g transform="translate(214.1,433.2) rotate(-90) scale(1.0305,1.0)" fill="none" stroke="#1e1e1e" stroke-width="2.05" stroke-linejoin="miter" stroke-miterlimit="3"><path transform="translate(0.00,0)" d="M16.96,-14.81A8.9,8.65 0 1 0 18.75,-8.7H11.8"/></g>
<g transform="translate(161.8,461) rotate(-90) scale(1.0000,1.0)" fill="none" stroke="#1e1e1e" stroke-width="2.05" stroke-linejoin="miter" stroke-miterlimit="3"><path transform="translate(0.00,0)" d="M0.95,-19V0M0.95,-8A5.45,5.2 0 0 1 11.85,-8V0"/></g>
<g transform="translate(161.8,525.5) rotate(-90) scale(1.2129,1.0)" fill="none" stroke="#1e1e1e" stroke-width="2.05" stroke-linejoin="miter" stroke-miterlimit="3"><path transform="translate(0.00,0)" d="M0.95,-19V0M0.95,-8A5.45,5.2 0 0 1 11.85,-8V0"/><path transform="translate(16.00,0)" d="M3.25,-18.5V0M3.5,-18.3L0.8,-16.3"/></g>
<g transform="translate(365.1,571.6) scale(1.0255,1.0)" fill="none" stroke="#1e1e1e" stroke-width="2.05" stroke-linejoin="miter" stroke-miterlimit="3"><path transform="translate(0.00,0)" d="M0.95,-7.05A6.05,6.1 0 1 0 13.05,-7.05A6.05,6.1 0 1 0 0.95,-7.05M13.25,-19.2V0"/><path transform="translate(17.40,0)" d="M0.95,-7.05A6.05,6.1 0 1 0 13.05,-7.05A6.05,6.1 0 1 0 0.95,-7.05"/></g>
<g transform="translate(371,612.6) scale(1.0000,1.0)" fill="none" stroke="#1e1e1e" stroke-width="2.05" stroke-linejoin="miter" stroke-miterlimit="3"><path transform="translate(0.00,0)" d="M16.96,-14.81A8.9,8.65 0 1 0 18.75,-8.7H11.8"/></g>
<g transform="translate(310.9,646.6) scale(1.0000,1.0)" fill="none" stroke="#1e1e1e" stroke-width="2.05" stroke-linejoin="miter" stroke-miterlimit="3"><path transform="translate(0.00,0)" d="M0.95,-18.5V-0.95H9.1"/></g>
<g transform="translate(702.85,612.3) scale(1.0051,1.0)" fill="none" stroke="#1e1e1e" stroke-width="2.05" stroke-linejoin="miter" stroke-miterlimit="3"><path transform="translate(0.00,0)" d="M0.95,-18.5V-0.95H9.1"/><path transform="translate(19.50,0)" d="M0.95,-14.1V0M0.95,-8.5A4.775,4.675 0 0 1 10.5,-8.5V0M10.5,-8.5A4.775,4.675 0 0 1 20.05,-8.5V0"/><path transform="translate(43.70,0)" d="M0.95,-7.05A6.05,6.1 0 1 0 13.05,-7.05A6.05,6.1 0 1 0 0.95,-7.05M13.05,-14.1V0"/><path transform="translate(60.90,0)" d="M0.6,-14.1L11.4,0M11.4,-14.1L0.6,0"/><path transform="translate(76.10,0)" d="M0.95,-1.9V0"/></g>
<g transform="translate(489.9,343.5) scale(1.0019,1.0)" fill="none" stroke="#1e1e1e" stroke-width="2.05" stroke-linejoin="miter" stroke-miterlimit="3"><path transform="translate(0.00,0)" d="M9.4,-15.6C8.7,-17.6 7,-18.45 5.2,-18.45C2.8,-18.45 1.2,-16.8 1.2,-14.6C1.2,-12.3 3,-11.2 5.3,-10.2C7.8,-9.1 9.65,-7.9 9.65,-5.2C9.65,-2.6 7.7,-0.95 5.2,-0.95C2.9,-0.95 1.3,-2.3 0.95,-4.3"/><path transform="translate(13.80,0)" d="M0.5,-18.5L5.0,-1.2L11,-18.0L17,-1.2L21.5,-18.5"/><path transform="translate(39.00,0)" d="M1.2,-13.8C1.2,-16.8 3.6,-18.45 6.4,-18.45C9.3,-18.45 11.6,-16.5 11.6,-13.6C11.6,-11.6 10.6,-10.3 9.2,-8.6L0.95,-0.95H12.9"/></g>
<g transform="translate(513.9,577.3) scale(1.0764,1.0)" fill="none" stroke="#1e1e1e" stroke-width="2.05" stroke-linejoin="miter" stroke-miterlimit="3"><path transform="translate(0.00,0)" d="M9.4,-15.6C8.7,-17.6 7,-18.45 5.2,-18.45C2.8,-18.45 1.2,-16.8 1.2,-14.6C1.2,-12.3 3,-11.2 5.3,-10.2C7.8,-9.1 9.65,-7.9 9.65,-5.2C9.65,-2.6 7.7,-0.95 5.2,-0.95C2.9,-0.95 1.3,-2.3 0.95,-4.3"/><path transform="translate(13.80,0)" d="M0.5,-18.5L5.0,-1.2L11,-18.0L17,-1.2L21.5,-18.5"/><path transform="translate(39.00,0)" d="M3.25,-18.5V0M3.5,-18.3L0.8,-16.3"/></g>
<g transform="translate(540.6,429.5) scale(0.6387,0.67)" fill="none" stroke="#555" stroke-width="2.7" stroke-linejoin="miter" stroke-miterlimit="3"><path transform="translate(0.00,0)" d="M0.95,-17.55V-0.95H5.3A8.25,8.3 0 0 0 5.3,-17.55Z"/><path transform="translate(17.70,0)" d="M0.95,0V-18.5L12.55,0V-18.5"/><path transform="translate(34.40,0)" d="M1.2,-13.8C1.2,-16.8 3.6,-18.45 6.4,-18.45C9.3,-18.45 11.6,-16.5 11.6,-13.6C11.6,-11.6 10.6,-10.3 9.2,-8.6L0.95,-0.95H12.9"/><path transform="translate(50.50,0)" d="M10.5,-17.55H2.6L1.6,-10.2C3,-11.4 4.5,-11.8 6,-11.8C9,-11.8 10.9,-9.6 10.9,-6.3C10.9,-2.9 8.8,-0.95 5.9,-0.95C3.8,-0.95 2,-2 0.9,-3.7"/></g><g transform="translate(540.6,429.5) scale(0.6387,0.67)" fill="none" stroke="#fff" stroke-width="0.94" stroke-linejoin="miter" stroke-miterlimit="3"><path transform="translate(0.00,0)" d="M0.95,-17.55V-0.95H5.3A8.25,8.3 0 0 0 5.3,-17.55Z"/><path transform="translate(17.70,0)" d="M0.95,0V-18.5L12.55,0V-18.5"/><path transform="translate(34.40,0)" d="M1.2,-13.8C1.2,-16.8 3.6,-18.45 6.4,-18.45C9.3,-18.45 11.6,-16.5 11.6,-13.6C11.6,-11.6 10.6,-10.3 9.2,-8.6L0.95,-0.95H12.9"/><path transform="translate(50.50,0)" d="M10.5,-17.55H2.6L1.6,-10.2C3,-11.4 4.5,-11.8 6,-11.8C9,-11.8 10.9,-9.6 10.9,-6.3C10.9,-2.9 8.8,-0.95 5.9,-0.95C3.8,-0.95 2,-2 0.9,-3.7"/></g></g>
</svg>
</body></html>
